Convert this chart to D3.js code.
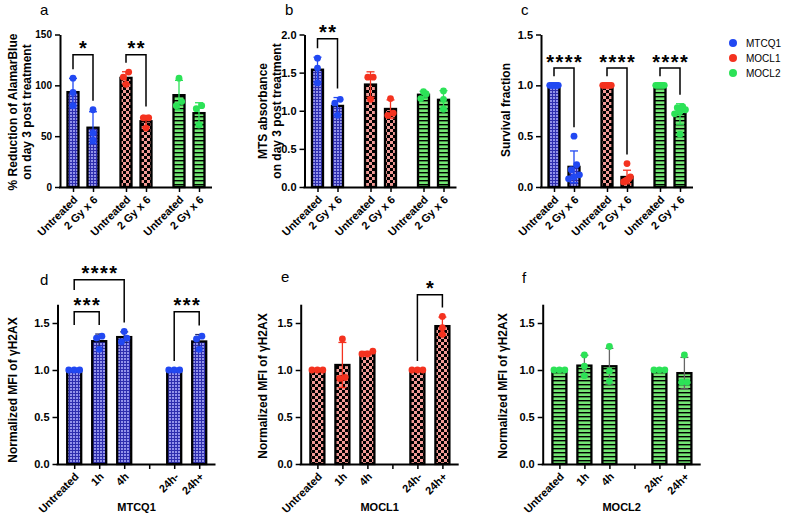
<!DOCTYPE html>
<html>
<head>
<meta charset="utf-8">
<script src="https://cdn.jsdelivr.net/npm/d3@7"></script>
<style>
  body { margin: 0; background: #fff; }
  svg { font-family: "Liberation Sans", Arial, sans-serif; }
</style>
</head>
<body>
<script>
const width = 788;
const height = 516;

// ---- data ----
const lines = ["MTCQ1", "MOCL1", "MOCL2"];
const treatments = ["Untreated", "2 Gy x 6"];
const timepoints = ["Untreated", "1h", "4h", "gap", "24h-", "24h+"];

// replicate points, [line][treatment]
const alamarBlue = [
    [[107, 93, 80], [76, 53, 46]],
    [[113, 108, 101], [68, 68, 58]],
    [[107, 84, 80], [80, 77, 61]]
];
const mtsAbsorbance = [
    [[1.69, 1.56, 1.365], [1.15, 1.10, 0.94]],
    [[1.44, 1.44, 1.15], [1.16, 0.97, 0.94]],
    [[1.25, 1.22, 1.16], [1.26, 1.15, 1.02]]
];
const survivalFraction = [
    [[1, 1, 1, 1, 1, 1], [0.50, 0.22, 0.17, 0.12, 0.10, 0.08]],
    [[1, 1, 1, 1, 1, 1], [0.23, 0.10, 0.08, 0.06, 0.05, 0.07]],
    [[1, 1, 1, 1, 1, 1], [0.79, 0.78, 0.76, 0.74, 0.72, 0.52]]
];

// normalized MFI of yH2AX, [timepoint]
const h2axMTCQ1 = [[1, 1, 1], [1.36, 1.34, 1.22], [1.41, 1.34, 1.30], [], [1, 1, 1], [1.36, 1.33, 1.22]];
const h2axMOCL1 = [[1, 1, 1], [1.33, 0.92, 0.91], [1.20, 1.17, 1.17], [], [1, 1, 1], [1.57, 1.45, 1.38]];
const h2axMOCL2 = [[1, 1, 1], [1.16, 1.04, 0.94], [1.25, 0.99, 0.88], [], [1, 1, 1], [1.16, 0.87, 0.87]];

// significance brackets (level given in axis units)
const sigA = [{ from: "MTCQ1|Untreated", to: "MTCQ1|2 Gy x 6", label: "*", at: 130 },
              { from: "MOCL1|Untreated", to: "MOCL1|2 Gy x 6", label: "**", at: 130 }];
const sigB = [{ from: "MTCQ1|Untreated", to: "MTCQ1|2 Gy x 6", label: "**", at: 1.945 }];
const sigC = lines.map(l => ({ from: l + "|Untreated", to: l + "|2 Gy x 6", label: "****", at: 1.17 }));
const sigD = [{ from: "Untreated", to: "1h", label: "***", at: 1.62, leftTo: 1.48 },
              { from: "Untreated", to: "4h", label: "****", at: 1.96, leftTo: 1.85 },
              { from: "24h-", to: "24h+", label: "***", at: 1.62 }];
const sigE = [{ from: "24h-", to: "24h+", label: "*", at: 1.80 }];

// ---- styles ----
const dotColors = ["#2148f2", "#f4321f", "#2ce257"];
const patterns = ["url(#grid)", "url(#check)", "url(#stripe)"];

const svg = d3.select("body").append("svg")
    .attr("width", width)
    .attr("height", height);

const defs = svg.append("defs");
const grid = defs.append("pattern").attr("id", "grid")
    .attr("patternUnits", "userSpaceOnUse").attr("width", 3).attr("height", 3);
grid.append("rect").attr("width", 3).attr("height", 3).attr("fill", "#2e2eae");
grid.append("rect").attr("x", 1).attr("y", 1).attr("width", 2).attr("height", 2).attr("fill", "#9292ea");

const check = defs.append("pattern").attr("id", "check")
    .attr("patternUnits", "userSpaceOnUse").attr("width", 6).attr("height", 6);
check.append("rect").attr("width", 6).attr("height", 6).attr("fill", "#f29a96");
check.append("rect").attr("width", 3).attr("height", 3).attr("fill", "#000");
check.append("rect").attr("x", 3).attr("y", 3).attr("width", 3).attr("height", 3).attr("fill", "#000");

const stripe = defs.append("pattern").attr("id", "stripe")
    .attr("patternUnits", "userSpaceOnUse").attr("width", 4).attr("height", 4);
stripe.append("rect").attr("width", 4).attr("height", 4).attr("fill", "#74e674");
stripe.append("rect").attr("width", 4).attr("height", 1.4).attr("fill", "#000");

// spread replicate dots that sit at the same height
function spreadDots(pts, y, r) {
    const sorted = pts.slice().sort((a, b) => a - b);
    const clusters = [];
    sorted.forEach(v => {
        const c = clusters[clusters.length - 1];
        if (c && Math.abs(y(v) - y(c[0])) < r * 1.7) c.push(v);
        else clusters.push([v]);
    });
    const out = [];
    clusters.forEach(c => {
        const step = c.length > 3 ? r * 0.5 : r * 1.6;
        c.forEach((v, i) => out.push({ v: v, dx: (i - (c.length - 1) / 2) * step }));
    });
    return out;
}

function drawPanel(p) {
    const g = svg.append("g");
    const y = d3.scaleLinear().domain(p.domain).range([p.y0, p.yTop]);
    const r = 3.4;

    // x axis ticks
    const gx = g.append("g")
        .attr("transform", `translate(0,${p.y0})`)
        .call(d3.axisBottom(p.x).tickSize(5).tickSizeOuter(0).tickFormat(p.xFmt));
    gx.select(".domain").remove();
    gx.selectAll("line").attr("stroke-width", 1.5);
    gx.selectAll("text")
        .attr("x", -6).attr("y", 9).attr("dy", "0.35em")
        .attr("transform", "rotate(-45)")
        .style("text-anchor", "end")
        .attr("font-size", 11).attr("font-weight", "bold")
        .attr("font-family", "Liberation Sans, Arial, sans-serif")
        .attr("fill", "#000");
    g.append("line")
        .attr("x1", p.x0 - 1).attr("x2", p.xEnd)
        .attr("y1", p.y0 + 0.5).attr("y2", p.y0 + 0.5)
        .attr("stroke", "#000").attr("stroke-width", 2);

    // y axis
    const gy = g.append("g")
        .attr("transform", `translate(${p.x0},0)`)
        .call(d3.axisLeft(y).tickValues(p.ticks).tickFormat(p.fmt).tickSize(5).tickSizeOuter(0));
    gy.select(".domain").attr("stroke-width", 2);
    gy.selectAll(".tick line").attr("stroke-width", 1.5);
    gy.selectAll("text")
        .attr("font-size", p.tickFont).attr("font-weight", "bold")
        .attr("font-family", "Liberation Sans, Arial, sans-serif")
        .attr("fill", "#000");

    // bars
    const bars = p.bars.map(b => {
        const mean = d3.mean(b.pts);
        const sd = b.pts.length > 1 ? d3.deviation(b.pts) : 0;
        return Object.assign({}, b, { mean: mean, sd: sd });
    });

    g.selectAll("rect.bar")
        .data(bars)
        .join("rect")
        .attr("class", "bar")
        .attr("x", d => d.x - p.bw / 2)
        .attr("y", d => y(d.mean))
        .attr("width", p.bw)
        .attr("height", d => y(0) - y(d.mean))
        .attr("fill", d => patterns[d.series])
        .attr("stroke", "#000")
        .attr("stroke-width", 2.3);

    // error bars (mean +/- SD)
    const eb = g.selectAll("g.err")
        .data(bars.filter(d => d.sd > 0))
        .join("g")
        .attr("class", "err")
        .attr("stroke", d => p.errColor || dotColors[d.series])
        .attr("stroke-width", 1.3);
    eb.append("line")
        .attr("x1", d => d.x).attr("x2", d => d.x)
        .attr("y1", d => y(d.mean - d.sd)).attr("y2", d => y(d.mean + d.sd));
    eb.append("line")
        .attr("x1", d => d.x - 4).attr("x2", d => d.x + 4)
        .attr("y1", d => y(d.mean + d.sd)).attr("y2", d => y(d.mean + d.sd));
    eb.append("line")
        .attr("x1", d => d.x - 4).attr("x2", d => d.x + 4)
        .attr("y1", d => y(d.mean - d.sd)).attr("y2", d => y(d.mean - d.sd));

    // replicate dots
    bars.forEach(b => {
        g.selectAll(null)
            .data(spreadDots(b.pts, y, r))
            .join("circle")
            .attr("cx", d => b.x + d.dx)
            .attr("cy", d => y(d.v))
            .attr("r", r)
            .attr("fill", dotColors[b.series]);
    });

    // significance brackets
    const topOf = key => {
        const b = bars.find(d => d.key === key);
        return Math.max(d3.max(b.pts), b.mean + b.sd);
    };
    p.sig.forEach(s => {
        const x1 = p.x(s.from), x2 = p.x(s.to);
        const yb = y(s.at);
        const yl = s.leftTo !== undefined ? y(s.leftTo) : y(topOf(s.from)) - 9;
        const yr = s.rightTo !== undefined ? y(s.rightTo) : y(topOf(s.to)) - 9;
        g.append("path")
            .attr("d", `M${x1},${yl}V${yb}H${x2}V${yr}`)
            .attr("fill", "none")
            .attr("stroke", "#000")
            .attr("stroke-width", 1.5);
        g.append("text")
            .attr("x", (x1 + x2) / 2 + 0.75)
            .attr("y", yb + 0.5)
            .attr("text-anchor", "middle")
            .attr("font-size", 20)
            .attr("font-weight", "bold")
            .attr("letter-spacing", "1.5px")
            .text(s.label);
    });

    // y title
    p.title.forEach((t, i) => {
        g.append("text")
            .attr("transform", `translate(${p.titleX[i]},${p.titleY}) rotate(-90)`)
            .attr("text-anchor", "middle")
            .attr("font-size", 12)
            .attr("font-weight", "bold")
            .text(t);
    });

    // x title
    if (p.xTitle) {
        g.append("text")
            .attr("x", (p.x0 + p.xEnd) / 2)
            .attr("y", 511)
            .attr("text-anchor", "middle")
            .attr("font-size", 11)
            .attr("font-weight", "bold")
            .text(p.xTitle);
    }

    // panel letter
    g.append("text")
        .attr("x", p.letterX)
        .attr("y", p.letterY)
        .attr("font-size", 15)
        .text(p.letter);
}

// ---- top row: grouped by cell line ----
function topPanel(x0, values) {
    const xGroup = d3.scalePoint().domain(lines).range([x0 + 23, x0 + 129]);
    const xInner = d3.scalePoint().domain(treatments).range([-10, 10]);
    const keys = lines.flatMap(l => treatments.map(t => l + "|" + t));
    const x = d3.scaleOrdinal()
        .domain(keys)
        .range(keys.map(k => xGroup(k.split("|")[0]) + xInner(k.split("|")[1])));
    const bars = keys.map((k, i) => ({
        key: k, x: x(k), series: Math.floor(i / 2),
        pts: values[Math.floor(i / 2)][i % 2]
    }));
    return { x0: x0, xEnd: x0 + 152, y0: 187, yTop: 34.5, x: x, bars: bars, bw: 11,
             xFmt: k => k.split("|")[1] };
}

function bottomPanel(x0, values, series) {
    const x = d3.scalePoint().domain(timepoints).range([x0 + 16.7, x0 + 141.7]);
    const bars = timepoints
        .map((t, i) => ({ key: t, x: x(t), series: series, pts: values[i] }))
        .filter(d => d.pts.length > 0);
    return { x0: x0, xEnd: x0 + 158, y0: 464, yTop: 464 - 1.7 * 94, x: x, bars: bars, bw: 14,
             xFmt: t => (t === "gap" ? "" : t) };
}

const fmt1 = d3.format(".1f");

drawPanel(Object.assign(topPanel(60, alamarBlue), {
    domain: [0, 150], ticks: [0, 50, 100, 150], fmt: d3.format("d"), tickFont: 10,
    sig: sigA, title: ["% Reduction of AlamarBlue", "on day 3 post treatment"],
    titleX: [16.5, 31], titleY: 112, letter: "a", letterX: 40, letterY: 15
}));
drawPanel(Object.assign(topPanel(304.5, mtsAbsorbance), {
    domain: [0, 2], ticks: [0, 0.5, 1, 1.5, 2], fmt: fmt1, tickFont: 11,
    sig: sigB, title: ["MTS absorbance", "on day 3 post treatment"],
    titleX: [266.5, 281], titleY: 111, letter: "b", letterX: 285, letterY: 15
}));
drawPanel(Object.assign(topPanel(541, survivalFraction), {
    domain: [0, 1.5], ticks: [0, 0.5, 1, 1.5], fmt: fmt1, tickFont: 11,
    sig: sigC, title: ["Survival fraction"],
    titleX: [509.5], titleY: 110, letter: "c", letterX: 521, letterY: 15
}));

drawPanel(Object.assign(bottomPanel(57.5, h2axMTCQ1, 0), {
    domain: [0, 1.7], ticks: [0, 0.5, 1, 1.5], fmt: fmt1, tickFont: 11,
    sig: sigD, title: ["Normalized MFI of γH2AX"], titleX: [16.5], titleY: 390,
    xTitle: "MTCQ1", errColor: "#222a6e", letter: "d", letterX: 40, letterY: 285
}));
drawPanel(Object.assign(bottomPanel(300.7, h2axMOCL1, 1), {
    domain: [0, 1.7], ticks: [0, 0.5, 1, 1.5], fmt: fmt1, tickFont: 11,
    sig: sigE, title: ["Normalized MFI of γH2AX"], titleX: [267], titleY: 386,
    xTitle: "MOCL1", letter: "e", letterX: 281, letterY: 282
}));
drawPanel(Object.assign(bottomPanel(542.7, h2axMOCL2, 2), {
    domain: [0, 1.7], ticks: [0, 0.5, 1, 1.5], fmt: fmt1, tickFont: 11,
    sig: [], title: ["Normalized MFI of γH2AX"], titleX: [507], titleY: 386,
    xTitle: "MOCL2", errColor: "#666", letter: "f", letterX: 522, letterY: 283
}));

// legend
const legendY = d3.scalePoint().domain(lines).range([43, 73]);
const legend = svg.append("g");
legend.selectAll("circle")
    .data(lines)
    .join("circle")
    .attr("cx", 733)
    .attr("cy", d => legendY(d))
    .attr("r", 4)
    .attr("fill", (d, i) => dotColors[i]);
legend.selectAll("text")
    .data(lines)
    .join("text")
    .attr("x", 746)
    .attr("y", d => legendY(d))
    .attr("dy", "0.35em")
    .attr("font-size", 10)
    .text(d => d);
</script>
</body>
</html>
